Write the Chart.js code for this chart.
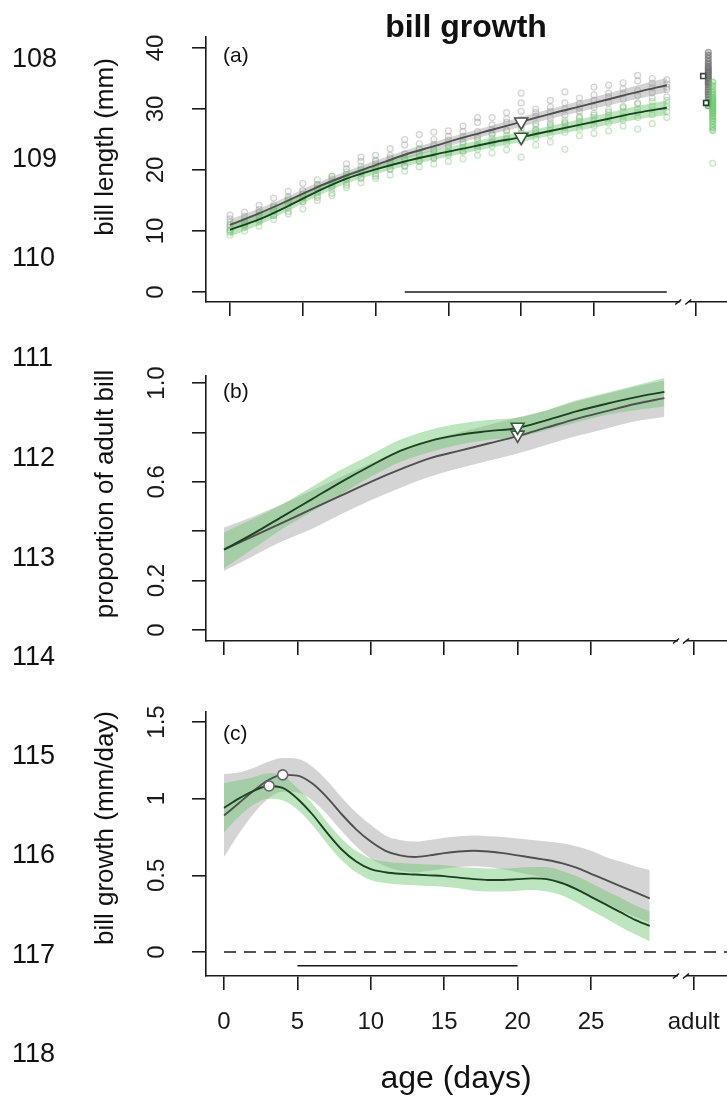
<!DOCTYPE html>
<html><head><meta charset="utf-8">
<script src="https://cdn.jsdelivr.net/npm/chart.js@4.4.0/dist/chart.umd.min.js"></script>
<style>
html,body{margin:0;padding:0;width:727px;height:1098px;overflow:hidden;background:#fff;font-family:"Liberation Sans",Arial,sans-serif;}
canvas{position:absolute;left:0;}
.t{position:absolute;white-space:nowrap;line-height:1;color:#111;}
.yt{position:absolute;white-space:nowrap;line-height:1;color:#111;transform:translate(-50%,-50%) rotate(-90deg);}
</style></head><body>
<canvas id="ca" width="800" height="340" style="top:0px"></canvas>
<canvas id="cb" width="800" height="330" style="top:340px"></canvas>
<canvas id="cc" width="800" height="400" style="top:680px"></canvas>
<script>
// ---------- data ----------
const xTicks = [0, 5, 10, 15, 20, 25, 32];
const xTickLabels = ['0', '5', '10', '15', '20', '25', 'adult'];
const xBreak = 31.2;

const yTicksA = [0, 10, 20, 30, 40];
const yTickLabelsA = ['0', '10', '20', '30', '40'];
const yTicksB = [0, 0.2, 0.4, 0.6, 0.8, 1.0];
const yTickLabelsB = ['0', '0.2', '', '0.6', '', '1.0'];
const yTicksC = [0, 0.5, 1, 1.5];
const yTickLabelsC = ['0', '0.5', '1', '1.5'];

// panel (a): bill length (mm)
const agesFit = [0,2,4,6,8,10,12,14,16,18,20,22,24,26,28,30];
const grayFitA  = [11.0,12.9,15.0,17.2,19.1,20.8,22.5,23.9,25.3,26.6,27.9,29.2,30.4,31.6,32.8,33.9];
const grayLoA   = [10.1,12.1,14.3,16.5,18.4,20.1,21.8,23.2,24.6,25.9,27.1,28.4,29.5,30.6,31.7,32.7];
const grayHiA   = [11.9,13.7,15.7,17.9,19.8,21.5,23.2,24.6,26.0,27.3,28.7,30.0,31.3,32.6,33.9,35.1];
const greenFitA = [10.2,11.9,14.1,16.5,18.6,20.1,21.4,22.5,23.5,24.5,25.4,26.4,27.4,28.4,29.4,30.2];
const greenLoA  = [9.1,11.0,13.3,15.7,17.8,19.3,20.6,21.7,22.7,23.7,24.6,25.6,26.5,27.4,28.3,29.0];
const greenHiA  = [11.3,12.8,14.9,17.3,19.4,20.9,22.2,23.3,24.3,25.3,26.2,27.2,28.3,29.4,30.5,31.4];

const obsAges = [0,1,2,3,4,5,6,7,8,9,10,11,12,13,14,15,16,17,18,19,20,21,22,23,24,25,26,27,28,29,30];
const grayObs = [
  [10.2,10.9,11.5,12.0,12.6],[11.0,11.7,12.4,13.1,11.4],[11.8,12.6,13.0,14.2,13.5],[12.5,13.4,14.3,15.4,13.9],
  [13.2,14.5,15.0,16.5,15.6],[14.8,15.5,16.0,17.8,16.6],[15.5,16.6,17.0,18.4,17.6],[16.2,17.3,17.9,19.0,18.5],
  [17.5,18.6,19.3,20.2,21.0],[18.6,19.5,20.1,21.4,22.1],[19.0,20.3,21.0,22.4,21.6],[20.2,21.2,21.8,23.5,22.4],
  [20.6,21.9,22.6,24.1,25.0],[21.5,22.6,23.4,25.8,24.3],[22.0,23.3,24.2,25.0,26.2],[22.8,24.0,24.9,26.4,25.5],
  [23.1,24.6,25.5,27.2,26.3],[23.9,25.2,26.3,27.8,28.6],[24.5,25.8,26.6,28.6,27.4],[25.0,26.5,27.8,28.4,29.4],
  [26.0,27.3,28.3,31.0,32.6,29.6],[26.5,27.6,28.8,30.0,29.4],[27.4,28.5,29.6,31.4,30.3],[27.8,29.0,30.0,32.8,31.0],
  [28.5,29.6,30.9,31.8,30.2],[29.0,30.3,31.4,32.3,33.6],[29.5,31.0,32.0,33.9,32.6],[30.4,31.6,32.5,33.3,34.3],
  [31.0,32.2,33.0,34.6,35.5],[31.8,32.7,33.5,35.0,34.2],[32.0,33.2,34.1,34.8,33.6]
];
const greenObs = [
  [9.3,9.8,10.0,11.0,10.5],[10.0,10.6,11.3,12.0,11.0],[10.8,11.5,12.0,13.1,12.4],[11.9,12.6,13.2,14.0,13.6],
  [12.8,13.8,14.4,15.3,14.9],[13.6,14.8,15.4,16.6,16.0],[15.0,15.8,16.3,17.6,17.0],[15.8,16.9,17.5,18.9,18.2],
  [17.1,17.9,18.4,19.7,19.0],[17.9,18.8,19.6,20.6,20.0],[18.6,19.4,20.0,21.4,20.7],[19.2,20.1,20.8,22.0,21.3],
  [19.8,20.7,21.5,22.6,22.0],[20.5,21.4,22.2,23.5,22.7],[21.0,21.9,22.7,23.9,23.2],[21.4,22.4,23.0,24.4,23.7],
  [21.8,22.9,23.6,25.1,24.2],[22.4,23.4,24.1,25.5,24.8],[22.8,23.9,24.6,26.0,25.2],[23.3,24.4,25.2,26.4,25.7],
  [22.1,24.7,25.0,26.8,26.0],[24.1,25.2,26.0,27.2,26.6],[24.6,25.7,26.5,27.8,27.1],[23.4,26.2,27.0,28.2,27.6],
  [25.6,26.7,27.4,28.8,28.0],[26.0,27.2,28.0,29.3,28.6],[26.4,27.7,28.5,29.9,29.0],[27.2,28.2,28.8,30.2,29.6],
  [26.7,28.6,29.4,30.8,30.0],[27.6,29.1,29.9,31.2,30.5],[28.6,29.6,30.3,31.4,30.9]
];
const adultGrayX = 32.85, adultGreenX = 33.15;
const grayAdult  = [30.5,31.0,31.5,32.0,32.4,32.8,33.2,33.6,34.0,34.3,34.6,34.9,35.2,35.5,35.8,36.1,36.4,36.7,37.0,37.4,37.8,38.3,38.8,39.3];
const greenAdult = [26.5,27.0,27.5,28.0,28.4,28.8,29.2,29.5,29.8,30.1,30.4,30.7,31.0,31.3,31.6,31.9,32.3,32.7,33.2,33.8,34.4];
const greenAdultOutlier = [21.1];
const grayAdultMean  = {x: 32.5, y: 35.4};
const greenAdultMean = {x: 32.7, y: 31.0};
const grayMarkA  = {x: 20, y: 27.9};
const greenMarkA = {x: 20, y: 25.4};
const sigBarA = {from: 12, to: 30, y: 0};

// panel (b): proportion of adult bill
const greenFitB = [0.325,0.39,0.46,0.53,0.60,0.665,0.725,0.765,0.79,0.805,0.818,0.85,0.885,0.915,0.942,0.964];
const greenLoB  = [0.25,0.33,0.41,0.48,0.55,0.62,0.68,0.72,0.75,0.77,0.78,0.81,0.84,0.87,0.89,0.905];
const greenHiB  = [0.395,0.45,0.51,0.58,0.65,0.71,0.77,0.81,0.835,0.85,0.86,0.89,0.93,0.96,0.99,1.02];
const grayFitB  = [0.325,0.38,0.435,0.49,0.545,0.60,0.65,0.695,0.725,0.755,0.785,0.82,0.855,0.885,0.915,0.939];
const grayLoB   = [0.24,0.30,0.36,0.41,0.47,0.525,0.575,0.62,0.655,0.685,0.715,0.75,0.785,0.815,0.845,0.862];
const grayHiB   = [0.415,0.46,0.51,0.565,0.62,0.675,0.725,0.77,0.80,0.83,0.86,0.89,0.925,0.955,0.985,1.01];
const grayMarkB  = {x: 20, y: 0.79};
const greenMarkB = {x: 20, y: 0.822};

// panel (c): bill growth (mm/day)
const agesC = [0,1,2,3,4,5,6,7,8,9,10,11,12,13,14,15,16,17,18,19,20,21,22,23,24,25,26,27,28,29];
const grayFitC = [0.89,0.97,1.05,1.12,1.155,1.15,1.10,1.01,0.90,0.80,0.72,0.66,0.63,0.62,0.63,0.645,0.655,0.66,0.655,0.645,0.63,0.615,0.60,0.58,0.55,0.51,0.47,0.43,0.39,0.35];
const grayLoC  = [0.62,0.77,0.90,1.00,1.045,1.04,0.99,0.90,0.79,0.69,0.61,0.56,0.53,0.52,0.53,0.545,0.555,0.56,0.555,0.54,0.52,0.50,0.48,0.45,0.41,0.36,0.32,0.27,0.23,0.19];
const grayHiC  = [1.16,1.17,1.20,1.24,1.265,1.26,1.21,1.12,1.01,0.91,0.83,0.76,0.73,0.72,0.73,0.745,0.755,0.76,0.755,0.75,0.74,0.73,0.72,0.71,0.69,0.66,0.62,0.59,0.56,0.535];
const greenFitC = [0.94,1.0,1.05,1.083,1.07,1.0,0.9,0.78,0.67,0.59,0.54,0.52,0.51,0.505,0.50,0.495,0.485,0.475,0.47,0.47,0.475,0.48,0.475,0.45,0.41,0.36,0.31,0.26,0.21,0.17];
const greenLoC  = [0.78,0.88,0.96,1.0,0.99,0.93,0.83,0.71,0.60,0.52,0.47,0.45,0.44,0.435,0.43,0.425,0.415,0.40,0.395,0.395,0.40,0.405,0.395,0.37,0.325,0.27,0.22,0.165,0.115,0.07];
const greenHiC  = [1.10,1.12,1.14,1.165,1.15,1.07,0.97,0.85,0.74,0.66,0.61,0.59,0.58,0.575,0.57,0.565,0.555,0.55,0.545,0.545,0.55,0.555,0.555,0.53,0.495,0.45,0.40,0.355,0.305,0.265];
const grayPeakC  = {x: 4.0, y: 1.155};
const greenPeakC = {x: 3.07, y: 1.083};
const sigBarC = {from: 5, to: 20, y: -0.09};
const zeroLineStart = 0;

// ---------- styling ----------
const FONT = 'Liberation Sans';
const INK = '#1a1a1a';
const GRAY_LINE = '#4f4f4f', GREEN_LINE = '#1a4220';
const GRAY_BAND = 'rgba(160,160,160,0.45)', GREEN_BAND = 'rgba(110,200,110,0.45)';
const GRAY_PT = 'rgba(120,120,120,0.30)', GREEN_PT = 'rgba(110,195,110,0.36)';
const GRAY_PT_FILL = 'rgba(150,150,150,0.08)', GREEN_PT_FILL = 'rgba(120,200,120,0.08)';
const GRAY_ADULT = 'rgba(95,95,95,0.5)', GREEN_ADULT = 'rgba(100,195,100,0.5)';
const GRAY_ADULT_FILL = 'rgba(110,110,110,0.35)', GREEN_ADULT_FILL = 'rgba(110,200,110,0.35)';

const pts = (xs, ys) => xs.map((x, i) => ({x, y: ys[i]}));
const smooth = {tension: 0.4, cubicInterpolationMode: 'monotone'};
function band(xs, lo, hi, color) {
  return [
    Object.assign({data: pts(xs, lo), borderWidth: 0, borderColor: 'rgba(0,0,0,0)', pointRadius: 0, fill: false}, smooth),
    Object.assign({data: pts(xs, hi), borderWidth: 0, borderColor: 'rgba(0,0,0,0)', pointRadius: 0, fill: '-1', backgroundColor: color}, smooth)
  ];
}
function line(xs, ys, color, w) {
  return Object.assign({data: pts(xs, ys), borderColor: color, borderWidth: w || 1.9, pointRadius: 0, fill: false}, smooth);
}
function marker(p, style, r, border, rot) {
  return {data: [p], showLine: false, pointStyle: style, pointRadius: r, pointRotation: rot || 0,
          pointBackgroundColor: '#fff', pointBorderColor: border, pointBorderWidth: 1.6};
}
function scatter(data, color, fillc, r) {
  return {data, showLine: false, pointStyle: 'circle', pointRadius: r || 3, pointBorderWidth: 1.2,
          pointBorderColor: color, pointBackgroundColor: fillc};
}
function segment(bar) {
  return {data: [{x: bar.from, y: bar.y}, {x: bar.to, y: bar.y}], borderColor: INK, borderWidth: 1.6, pointRadius: 0, fill: false};
}
// later datasets in the list are painted on top
function layered(list) {
  list.forEach((d, i) => { d.order = list.length - i; });
  return list;
}

const breakPlugin = {
  id: 'axisBreak',
  afterDraw(chart) {
    const ctx = chart.ctx;
    const x = chart.scales.x.getPixelForValue(xBreak);
    const y = chart.chartArea.bottom;
    ctx.save();
    ctx.fillStyle = '#fff';
    ctx.fillRect(x - 4, y - 1.5, 8, 3);
    ctx.strokeStyle = INK; ctx.lineWidth = 1.6;
    ctx.beginPath();
    ctx.moveTo(x - 9, y + 2.5); ctx.lineTo(x - 3, y - 2.5);
    ctx.moveTo(x + 1, y + 2.5); ctx.lineTo(x + 7, y - 2.5);
    ctx.stroke();
    ctx.restore();
  }
};

function makePanel(id, c) {
  return new Chart(document.getElementById(id), {
    type: 'line',
    data: {datasets: layered(c.datasets)},
    options: {
      responsive: false, animation: false, devicePixelRatio: 1,
      layout: {padding: {top: c.padTop, left: 0, right: 40, bottom: 0}},
      plugins: {legend: {display: false}, tooltip: {enabled: false}},
      elements: {line: {borderJoinStyle: 'round'}},
      scales: {
        x: {
          type: 'linear', position: 'bottom', min: c.xMin, max: c.xMax, bounds: 'data',
          afterBuildTicks: s => { s.ticks = xTicks.map(v => ({value: v})); },
          afterFit: s => { s.height = c.xAxisH; s.paddingLeft = 0; s.paddingRight = 0; s.paddingTop = 0; s.paddingBottom = 0; },
          grid: {display: true, drawOnChartArea: false, drawTicks: true, tickLength: 14, color: INK, lineWidth: 1.6},
          border: {display: true, color: INK, width: 1.6},
          ticks: {display: c.showX, autoSkip: false, minRotation: 0, maxRotation: 0, padding: 18, color: INK,
                  font: {family: FONT, size: 24},
                  callback: (v, i) => xTickLabels[xTicks.indexOf(v)] ?? ''}
        },
        y: {
          type: 'linear', position: 'left', min: c.yMin, max: c.yMax, bounds: 'data',
          afterBuildTicks: s => { s.ticks = c.yTicks.map(v => ({value: v})); },
          afterFit: s => { s.width = 206; s.paddingLeft = 0; s.paddingRight = 0; s.paddingTop = 0; s.paddingBottom = 0; },
          grid: {display: true, drawOnChartArea: false, drawTicks: true, tickLength: 14, color: INK, lineWidth: 1.6},
          border: {display: true, color: INK, width: 1.6},
          ticks: {autoSkip: false, minRotation: 90, maxRotation: 90, crossAlign: 'center', padding: c.yPad, color: INK,
                  font: {family: FONT, size: 24},
                  callback: (v, i) => c.yLabels[c.yTicks.indexOf(v)] ?? ''}
        }
      }
    },
    plugins: [breakPlugin]
  });
}

// panel (a)
const grayObsPts = [], greenObsPts = [];
obsAges.forEach((a, i) => {
  grayObs[i].forEach(v => grayObsPts.push({x: a, y: v}));
  greenObs[i].forEach(v => greenObsPts.push({x: a, y: v}));
});
greenAdultOutlier.forEach(v => greenObsPts.push({x: adultGreenX, y: v}));
const grayAdultPts = grayAdult.map(v => ({x: adultGrayX, y: v}));
const greenAdultPts = greenAdult.map(v => ({x: adultGreenX, y: v}));

makePanel('ca', {
  padTop: 37, xAxisH: 38, showX: false,
  xMin: -24 / 14.56, xMax: 530 / 14.56,
  yMin: -10 / 6.1, yMax: 40 + 11 / 6.1,
  yTicks: yTicksA, yLabels: yTickLabelsA, yPad: 22,
  datasets: [
    scatter(grayObsPts, GRAY_PT, GRAY_PT_FILL), scatter(greenObsPts, GREEN_PT, GREEN_PT_FILL),
    scatter(grayAdultPts, GRAY_ADULT, GRAY_ADULT_FILL), scatter(greenAdultPts, GREEN_ADULT, GREEN_ADULT_FILL),
    ...band(agesFit, grayLoA, grayHiA, GRAY_BAND),
    ...band(agesFit, greenLoA, greenHiA, GREEN_BAND),
    line(agesFit, grayFitA, GRAY_LINE), line(agesFit, greenFitA, GREEN_LINE),
    segment(sigBarA),
    marker(grayMarkA, 'triangle', 7.5, GRAY_LINE, 180),
    marker(greenMarkA, 'triangle', 7.5, '#2e5e36', 180),
    marker(grayAdultMean, 'rect', 3.5, '#444'),
    marker(greenAdultMean, 'rect', 3.5, GREEN_LINE)
  ]
});

// panel (b)
makePanel('cb', {
  padTop: 36, xAxisH: 29, showX: false,
  xMin: -18 / 14.68, xMax: 536 / 14.68,
  yMin: -11 / 247, yMax: 1 + 7 / 247,
  yTicks: yTicksB, yLabels: yTickLabelsB, yPad: 18,
  datasets: [
    ...band(agesFit, grayLoB, grayHiB, GRAY_BAND),
    ...band(agesFit, greenLoB, greenHiB, GREEN_BAND),
    line(agesFit, grayFitB, GRAY_LINE), line(agesFit, greenFitB, GREEN_LINE),
    marker(grayMarkB, 'triangle', 7.5, GRAY_LINE, 180),
    marker(greenMarkB, 'triangle', 7.5, '#2e5e36', 180)
  ]
});

// panel (c)
const xMaxC = 536 / 14.68;
makePanel('cc', {
  padTop: 32, xAxisH: 104, showX: true,
  xMin: -18 / 14.68, xMax: xMaxC,
  yMin: -24 / 153.33, yMax: 1.5 + 10 / 153.33,
  yTicks: yTicksC, yLabels: yTickLabelsC, yPad: 18,
  datasets: [
    ...band(agesC, grayLoC, grayHiC, GRAY_BAND),
    ...band(agesC, greenLoC, greenHiC, GREEN_BAND),
    line(agesC, grayFitC, GRAY_LINE), line(agesC, greenFitC, GREEN_LINE),
    {data: [{x: zeroLineStart, y: 0}, {x: xMaxC, y: 0}], borderColor: INK, borderWidth: 1.6, borderDash: [12, 8], pointRadius: 0, fill: false},
    segment(sigBarC),
    marker(greenPeakC, 'circle', 5, '#666'),
    marker(grayPeakC, 'circle', 5, '#666')
  ]
});

// ---------- text ----------
function addText(str, x, baseline, size, opts) {
  opts = opts || {};
  const d = document.createElement('div');
  d.className = 't';
  d.textContent = str;
  d.style.fontSize = size + 'px';
  d.style.top = (baseline - 0.8465 * size) + 'px';
  d.style.left = x + 'px';
  if (opts.bold) d.style.fontWeight = 'bold';
  if (opts.center) d.style.transform = 'translateX(-50%)';
  document.body.appendChild(d);
}
function addYTitle(str, cx, cy, size) {
  const d = document.createElement('div');
  d.className = 'yt';
  d.textContent = str;
  d.style.fontSize = size + 'px';
  d.style.left = cx + 'px';
  d.style.top = cy + 'px';
  document.body.appendChild(d);
}
const lineNumbers = ['108','109','110','111','112','113','114','115','116','117','118'];
const lineBaselines = [68,168,267,367,467,567,666,765,864,964,1063];
lineNumbers.forEach((s, i) => addText(s, 12, lineBaselines[i], 27, {}));

addText('bill growth', 466, 37, 32, {bold: true, center: true});
addText('(a)', 223, 61.5, 21, {});
addText('(b)', 223, 397.5, 21, {});
addText('(c)', 223, 739.5, 21, {});
addYTitle('bill length (mm)', 104, 147, 26);
addYTitle('proportion of adult bill', 104, 494, 26);
addYTitle('bill growth (mm/day)', 104, 828, 26);
addText('age (days)', 456, 1088, 32, {center: true});
</script>
</body></html>
